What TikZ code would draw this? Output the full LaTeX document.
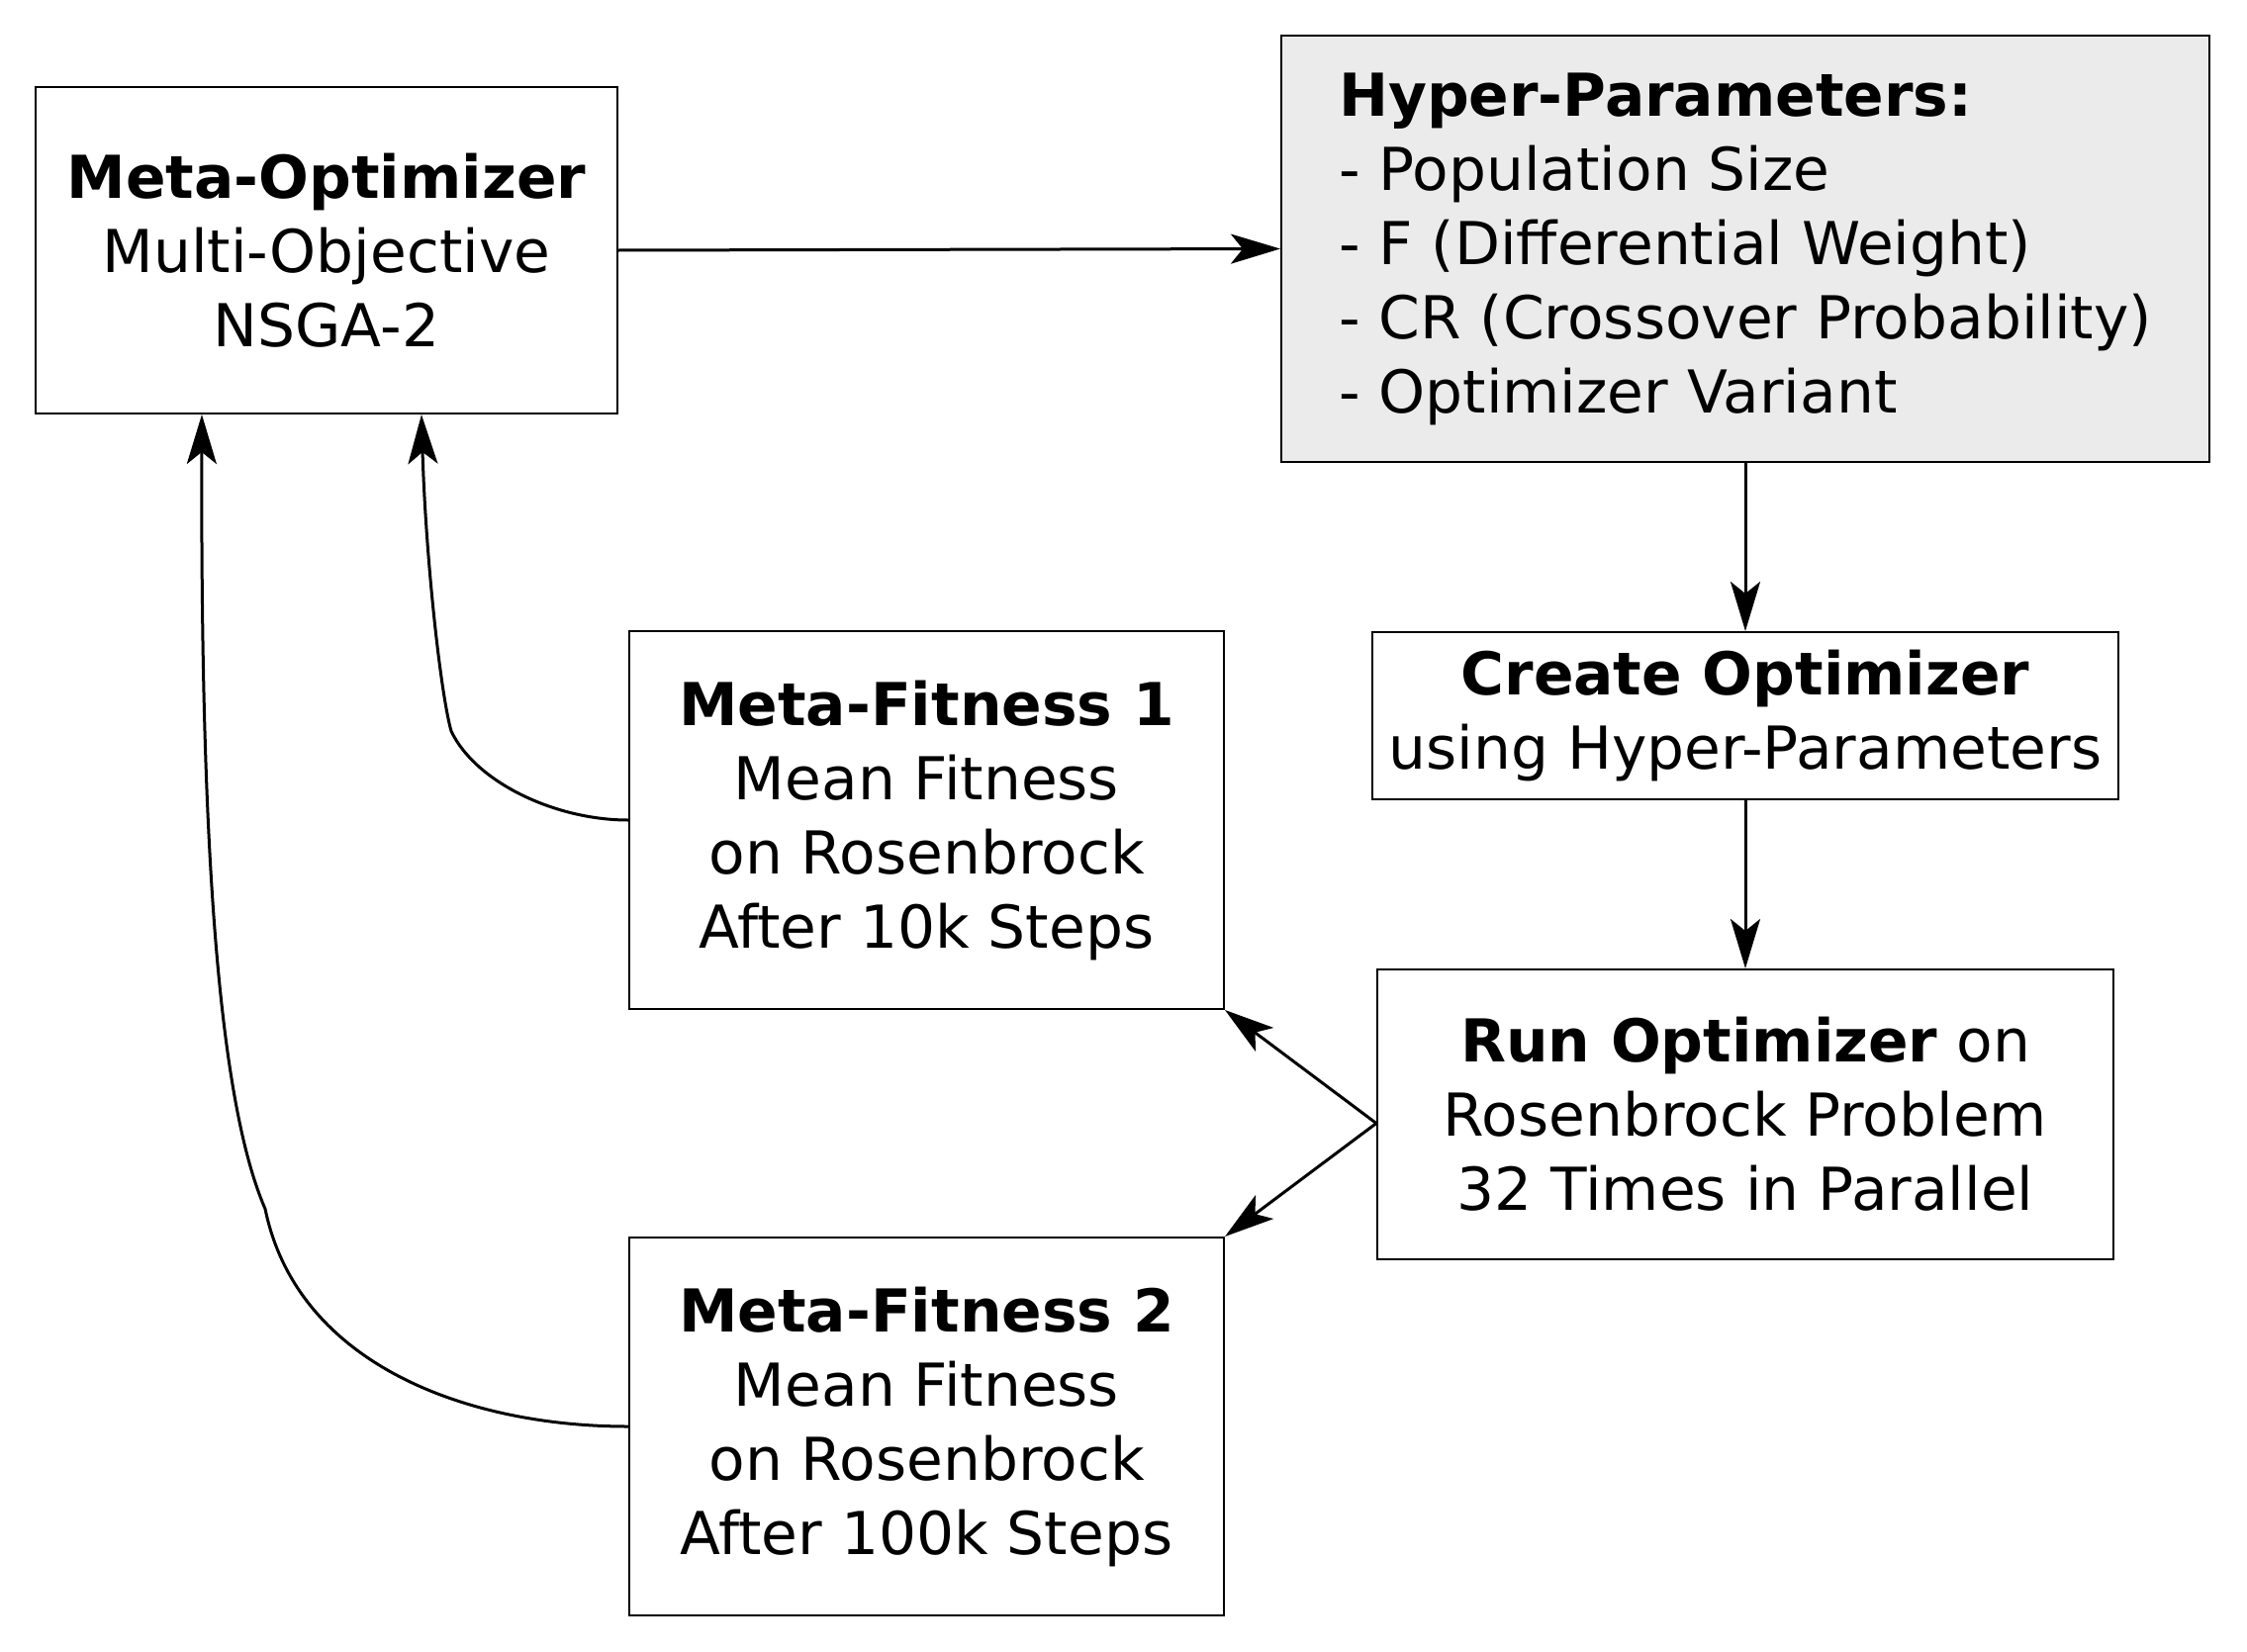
\documentclass[tikz,border=0pt]{standalone}
\usepackage{fontspec}
\setmainfont{DejaVu Sans}
\usetikzlibrary{arrows.meta}
\begin{document}
\begin{tikzpicture}[x=1pt,y=-1pt,
  box/.style={draw=black, line width=2pt, inner sep=0pt, align=center,
    font=\fontsize{59.8}{75}\selectfont},
  conn/.style={line width=3pt, -{Stealth[length=50pt,width=30pt,inset=12pt]}}]
\useasboundingbox (0,0) rectangle (2271,1670);
\node[box, minimum width=588pt, minimum height=330pt] (mo) at (330,253)
  {\textbf{Meta-Optimizer}\\Multi-Objective\\NSGA-2};
\node[box, fill={rgb,255:red,235;green,235;blue,235}, align=left,
  minimum width=938pt, minimum height=431pt] (hp) at (1764,251.5)
  {\textbf{Hyper-Parameters:}\\- Population Size\\- F (Differential Weight)\\- CR (Crossover Probability)\\- Optimizer Variant};
\node[box, minimum width=754pt, minimum height=169pt] (co) at (1764,723.5)
  {\textbf{Create Optimizer}\\using Hyper-Parameters};
\node[box, minimum width=744pt, minimum height=293pt] (ro) at (1764,1126.5)
  {\textbf{Run Optimizer} on\\Rosenbrock Problem\\32 Times in Parallel};
\node[box, minimum width=601pt, minimum height=382pt] (mf1) at (936.5,829)
  {\textbf{Meta-Fitness 1}\\Mean Fitness\\on Rosenbrock\\After 10k Steps};
\node[box, minimum width=601pt, minimum height=382pt] (mf2) at (936.5,1442)
  {\textbf{Meta-Fitness 2}\\Mean Fitness\\on Rosenbrock\\After 100k Steps};
\draw[conn] (mo.east) -- (hp.west);
\draw[conn] (hp.south) -- (co.north);
\draw[conn] (co.south) -- (ro.north);
\draw[conn] ([yshift=-9pt]ro.west) -- (mf1.south east);
\draw[conn] ([yshift=-9pt]ro.west) -- (mf2.north east);
\draw[conn] (mf1.west) .. controls (560,829) and (480,790) .. (456,739)
  .. controls (445,700) and (430,560) .. ([xshift=391pt]mo.south west);
\draw[conn] (mf2.west) .. controls (470,1442) and (300,1378) .. (268,1222)
  .. controls (215,1100) and (203,800) .. ([xshift=169pt]mo.south west);
\end{tikzpicture}
\end{document}
